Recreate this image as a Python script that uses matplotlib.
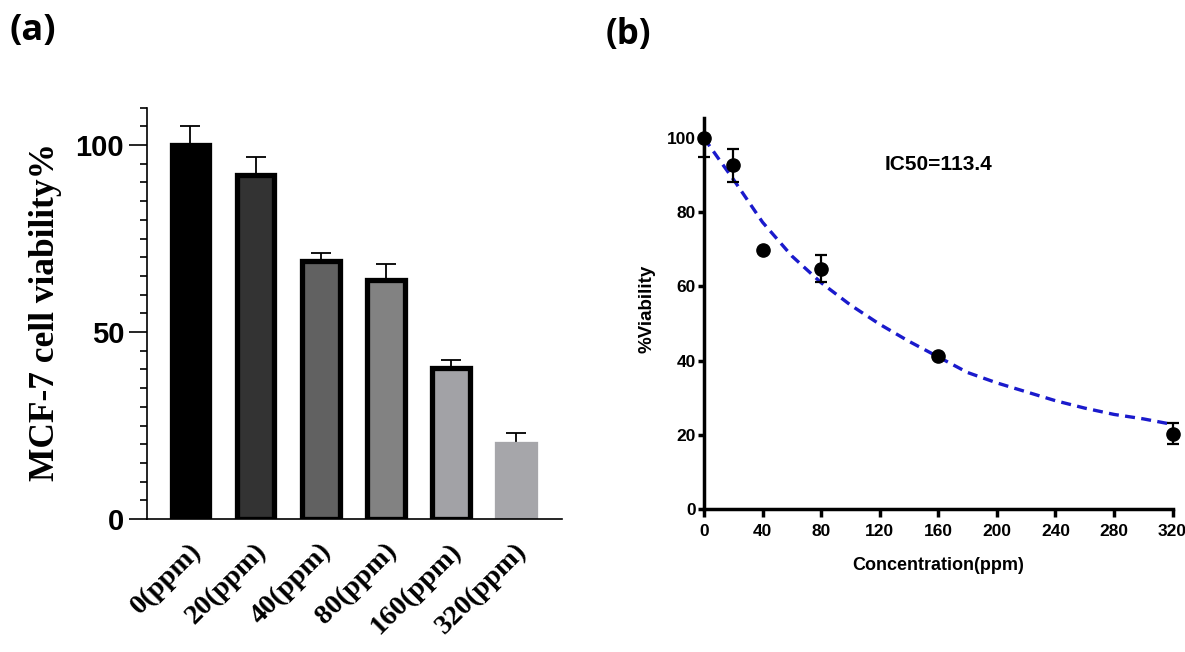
import matplotlib
matplotlib.use('Agg')
import matplotlib.pyplot as plt
from matplotlib.ticker import MultipleLocator
from matplotlib.transforms import ScaledTranslation

# ---------------- data ----------------
categories = ['0(ppm)', '20(ppm)', '40(ppm)', '80(ppm)', '160(ppm)', '320(ppm)']
bar_values = [100, 92, 69, 64, 40.5, 20]
bar_errors = [5.2, 4.9, 2.1, 4.3, 1.9, 2.9]

conc = [0, 20, 40, 80, 160, 320]
viability = [100, 92.6, 69.7, 64.8, 41.2, 20.2]
err_low = [5, 4.4, 0, 3.6, 0, 2.8]
err_high = [0, 4.5, 0, 3.7, 0, 3.0]

fit_x = [0, 10, 20, 40, 60, 80, 100, 120, 140, 160, 180, 200, 220, 240, 260, 280, 300, 320]
fit_y = [100, 94.4, 88.9, 77.3, 68.2, 61.0, 55.0, 49.8, 45.2, 41.0, 36.8, 34.0, 31.6, 29.2, 27.2, 25.5, 24.3, 22.8]

ic50_label = 'IC50=113.4'

# ---------------- styles ----------------
bar_colors = ['#000000', '#333333', '#616161', '#828282', '#a2a2a6', '#a6a6aa']
bar_edges = ['#000000', '#000000', '#000000', '#000000', '#000000', '#a6a6aa']
SANS = 'Liberation Sans'
SERIF = 'Liberation Serif'

W, H = 1185, 652
fig = plt.figure(figsize=(W / 100, H / 100), dpi=100)

# ---------------- panel (a) ----------------
axA = fig.add_axes([147 / W, 1 - 519 / H, 415.3 / W, 411.4 / H])
xpos = list(range(len(categories)))
axA.bar(xpos, bar_values, width=0.58, color=bar_colors, edgecolor=bar_edges,
        linewidth=3.8, zorder=2)
axA.errorbar(xpos, bar_values, yerr=[[0] * len(bar_errors), bar_errors], fmt='none',
             ecolor='black', elinewidth=1.3, capsize=7, capthick=1.3, zorder=1)
axA.set_xlim(-0.668, 5.71)
axA.set_ylim(0, 110)
for s in ['top', 'right']:
    axA.spines[s].set_visible(False)
for s in ['left', 'bottom']:
    axA.spines[s].set_linewidth(1.2)
axA.set_yticks([0, 50, 100])
axA.yaxis.set_minor_locator(MultipleLocator(5))
axA.tick_params(axis='y', which='major', length=13, width=1.2, pad=3.5, labelsize=21)
axA.tick_params(axis='y', which='minor', length=5, width=1.2)
for lab in axA.get_yticklabels():
    lab.set_fontfamily(SANS)
    lab.set_fontweight('bold')
axA.set_xticks(xpos)
axA.set_xticklabels(categories, rotation=45, ha='right', va='top', rotation_mode='anchor',
                    fontsize=20.5, fontweight='bold', fontfamily=SERIF)
axA.tick_params(axis='x', length=0, pad=14)
shift = ScaledTranslation(-2 / 100, 0, fig.dpi_scale_trans)
for lab in axA.get_xticklabels():
    lab.set_transform(lab.get_transform() + shift)

fig.text(46 / W, 1 - 312 / H, 'MCF-7 cell viability%', rotation=90, ha='center', va='center',
         fontsize=25.5, fontweight='bold', fontfamily=SERIF)
fig.text(32.5 / W, 1 - 31 / H, '(a)', ha='center', va='center', fontsize=26,
         fontweight='bold', fontfamily='Open Sans')

# ---------------- panel (b) ----------------
axB = fig.add_axes([704 / W, 1 - 509 / H, 468.5 / W, 391 / H])
axB.plot(fit_x, fit_y, color='#1a1acc', lw=2.4, dashes=(3, 1.9), zorder=2)
eb = axB.errorbar(conc, viability, yerr=[err_low, err_high], fmt='o', color='black', ms=9.5,
                  capsize=4.6, elinewidth=1.6, capthick=1.6, zorder=3)
for art in [eb[0]] + list(eb[1]) + list(eb[2]):
    art.set_clip_on(False)
axB.set_xlim(0, 320)
axB.set_ylim(0, 105.4)
for s in ['top', 'right']:
    axB.spines[s].set_visible(False)
for s in ['left', 'bottom']:
    axB.spines[s].set_linewidth(2.5)
axB.set_xticks(list(range(0, 321, 40)))
axB.set_yticks(list(range(0, 101, 20)))
axB.tick_params(axis='x', length=6, width=2.5, pad=4.5, labelsize=12.5)
axB.tick_params(axis='y', length=4.5, width=2.5, pad=1.5, labelsize=12.5)
for lab in axB.get_xticklabels() + axB.get_yticklabels():
    lab.set_fontfamily(SANS)
    lab.set_fontweight('bold')
axB.text(123.6, 92.8, ic50_label, ha='left', va='center', fontsize=15,
         fontweight='bold', fontfamily=SANS)

fig.text(938 / W, 1 - 566 / H, 'Concentration(ppm)', ha='center', va='center',
         fontsize=13, fontweight='bold', fontfamily=SANS)
fig.text(646.5 / W, 1 - 309 / H, '%Viability', rotation=90, ha='center', va='center',
         fontsize=13.5, fontweight='bold', fontfamily=SANS)
fig.text(628 / W, 1 - 35 / H, '(b)', ha='center', va='center', fontsize=25,
         fontweight='bold', fontfamily='Open Sans')

fig.savefig('out.png', dpi=100)
